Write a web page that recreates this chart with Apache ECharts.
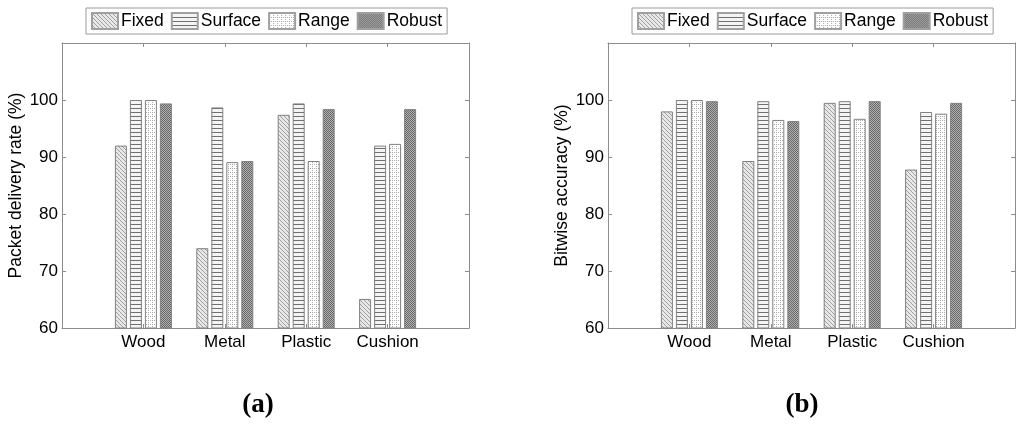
<!DOCTYPE html>
<html>
<head>
<meta charset="utf-8">
<script src="https://cdn.jsdelivr.net/npm/echarts@6/dist/echarts.min.js"></script>
<style>
html,body{margin:0;padding:0;background:#fff;}
#c{width:1024px;height:424px;}
</style>
</head>
<body>
<div id="c"></div>
<script>
// ---- data ----
var categories = ['Wood', 'Metal', 'Plastic', 'Cushion'];
var seriesNames = ['Fixed', 'Surface', 'Range', 'Robust'];
var yTicks = [60, 70, 80, 90, 100];
// (a) Packet delivery rate (%)
var pdrFixed   = [92.0, 74.0, 97.4, 65.1];
var pdrSurface = [100.0, 98.7, 99.4, 92.0];
var pdrRange   = [100.0, 89.1, 89.3, 92.3];
var pdrRobust  = [99.4, 89.3, 98.4, 98.4];
// (b) Bitwise accuracy (%)
var accFixed   = [98.0, 89.3, 99.5, 87.8];
var accSurface = [100.0, 99.8, 99.8, 97.9];
var accRange   = [100.0, 96.5, 96.7, 97.6];
var accRobust  = [99.8, 96.3, 99.8, 99.5];

// ---- patterns ----
function makePattern(w, h, bg, px, fg) {
  var c = document.createElement('canvas');
  c.width = w; c.height = h;
  var ctx = c.getContext('2d');
  ctx.fillStyle = bg; ctx.fillRect(0, 0, w, h);
  ctx.fillStyle = fg;
  px.forEach(function (p) { ctx.fillRect(p[0], p[1], 1, 1); });
  return { image: c, repeat: 'repeat' };
}
var patterns = [
  makePattern(4, 4, '#e8e8e8', [[0,0],[1,1],[2,2],[3,3]], '#a0a0a0'),
  makePattern(1, 4, '#f4f4f4', [[0,0]], '#707070'),
  makePattern(4, 4, '#ffffff', [[0,0],[2,0],[0,2]], '#a8a8a8'),
  makePattern(2, 2, '#b0b0b0', [[0,0],[1,1]], '#686868')
];

var axisGray = '#8c8c8c';
var FONT = 'Liberation Sans, Arial, sans-serif';
var paddedCats = [''].concat(categories, ['']);
function pad(arr) { return ['-'].concat(arr, ['-']); }
var tickInterval = function (i) { return i >= 1 && i <= categories.length; };

var grids = [
  { left: 62, top: 43, width: 407, height: 285 },
  { left: 608, top: 43, width: 407, height: 285 }
];
var yNames = ['Packet delivery rate (%)', 'Bitwise accuracy (%)'];
var dataSets = [
  [pdrFixed, pdrSurface, pdrRange, pdrRobust],
  [accFixed, accSurface, accRange, accRobust]
];

var xAxes = [], yAxes = [], series = [], legends = [];
[0, 1].forEach(function (g) {
  xAxes.push({
    type: 'category', gridIndex: g, data: paddedCats, boundaryGap: false, position: 'bottom',
    axisLine: { lineStyle: { color: axisGray, width: 1 } },
    axisTick: { inside: true, length: 4, interval: tickInterval, lineStyle: { color: axisGray } },
    axisLabel: { color: '#000', fontSize: 17, fontFamily: FONT, margin: 6, interval: 0 },
    splitLine: { show: false }
  });
  xAxes.push({
    type: 'category', gridIndex: g, data: paddedCats, boundaryGap: false, position: 'top',
    axisLine: { lineStyle: { color: axisGray, width: 1 } },
    axisTick: { inside: true, length: 4, interval: tickInterval, lineStyle: { color: axisGray } },
    axisLabel: { show: false }, splitLine: { show: false }
  });
  yAxes.push({
    type: 'value', gridIndex: g, min: 60, max: 110, interval: 10, position: 'left',
    name: yNames[g], nameLocation: 'middle', nameGap: 37, nameRotate: 90,
    nameTextStyle: { color: '#000', fontSize: 17.5, fontFamily: FONT },
    axisLine: { show: true, lineStyle: { color: axisGray, width: 1 } },
    axisTick: { show: true, inside: true, length: 4, lineStyle: { color: axisGray } },
    axisLabel: { color: '#000', fontSize: 17, fontFamily: FONT, margin: 4,
      formatter: function (v) { return yTicks.indexOf(v) >= 0 ? String(v) : ''; } },
    splitLine: { show: false }
  });
  yAxes.push({
    type: 'value', gridIndex: g, min: 60, max: 110, interval: 10, position: 'right',
    axisLine: { show: true, lineStyle: { color: axisGray, width: 1 } },
    axisTick: { show: true, inside: true, length: 4, lineStyle: { color: axisGray } },
    axisLabel: { show: false }, splitLine: { show: false }
  });
  seriesNames.forEach(function (name, s) {
    series.push({
      type: 'bar', name: name, xAxisIndex: g * 2, yAxisIndex: g * 2,
      data: pad(dataSets[g][s]),
      barWidth: 12, barGap: '25%',
      itemStyle: { color: patterns[s], borderColor: '#808080', borderWidth: 1 },
      emphasis: { disabled: true },
      animation: false
    });
  });
  legends.push({
    data: seriesNames, left: g === 0 ? 86 : 632, top: 8,
    orient: 'horizontal', icon: 'rect', itemWidth: 26, itemHeight: 16, itemGap: 7,
    padding: [4, 5, 4, 5], borderColor: '#9a9a9a', borderWidth: 1, backgroundColor: '#fff',
    itemStyle: { borderColor: '#a0a0a0' },
    textStyle: { color: '#000', fontSize: 17.5, fontFamily: FONT, padding: [0, 0, 0, -2] },
    selectedMode: false
  });
});

var chart = echarts.init(document.getElementById('c'), null, { renderer: 'canvas' });
chart.setOption({
  backgroundColor: '#fff',
  animation: false,
  grid: grids,
  xAxis: xAxes,
  yAxis: yAxes,
  legend: legends,
  series: series,
  graphic: [
    { type: 'text', style: { text: '(a)', x: 258, y: 405, align: 'center', verticalAlign: 'middle',
      font: 'bold 27px "Liberation Serif", "Times New Roman", serif', fill: '#000' } },
    { type: 'text', style: { text: '(b)', x: 802, y: 405, align: 'center', verticalAlign: 'middle',
      font: 'bold 27px "Liberation Serif", "Times New Roman", serif', fill: '#000' } }
  ]
});
</script>
</body>
</html>
